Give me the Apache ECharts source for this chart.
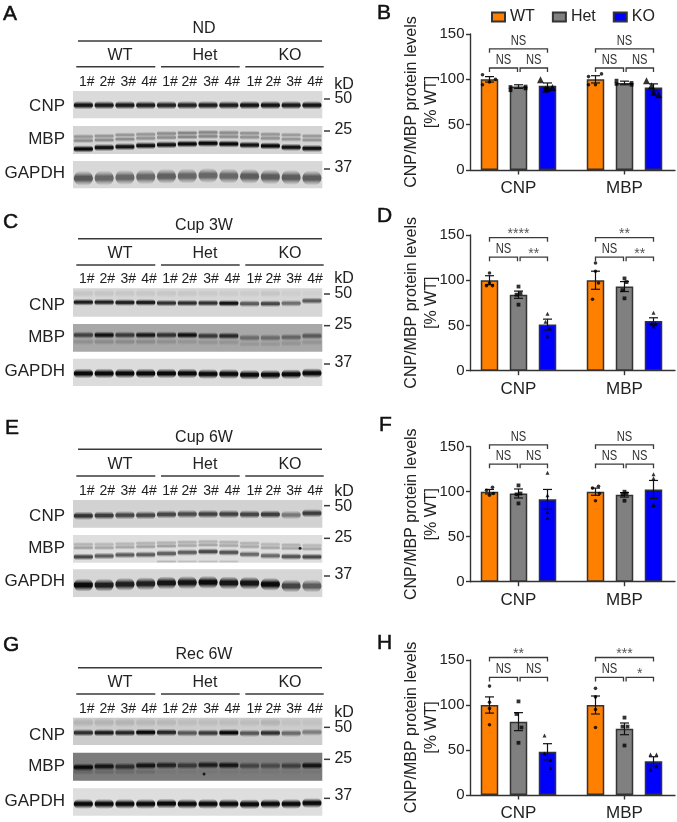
<!DOCTYPE html>
<html><head><meta charset="utf-8">
<style>html,body{margin:0;padding:0;background:#fff}#c{width:677px;height:822px}</style>
<script src="https://cdn.jsdelivr.net/npm/echarts@6/dist/echarts.min.js"></script>
</head><body><div id="c"></div>
<script>
// ---------- categories / labels ----------
const groups = ['CNP', 'MBP'];
const genotypes = ['WT', 'Het', 'KO'];
const genotypeColors = ['#FF7F00', '#808080', '#0000FF'];
const yTicks = [0, 50, 100, 150];
const laneNames = ['1#', '2#', '3#', '4#'];
const lanes = ['1','2','3','4','5','6','7','8','9','10','11','12'];
const panelTitles = ['ND', 'Cup 3W', 'Cup 6W', 'Rec 6W'];

// ---------- bars: mean per group [CNP, MBP] ----------
const B_WT = [100, 100], B_Het = [92, 96], B_KO = [93, 91];
const D_WT = [100, 100], D_Het = [84, 93], D_KO = [51, 55];
const F_WT = [100, 100], F_Het = [98, 96.5], F_KO = [91.5, 102.5];
const H_WT = [100, 100], H_Het = [81.5, 73.5], H_KO = [48, 37.5];
// ---------- SEM ----------
const B_WT_sem = [3, 4], B_Het_sem = [2, 2], B_KO_sem = [3, 4];
const D_WT_sem = [5, 10], D_Het_sem = [4, 5.5], D_KO_sem = [6, 3.5];
const F_WT_sem = [2.5, 4], F_Het_sem = [5, 2.5], F_KO_sem = [11, 10];
const H_WT_sem = [9, 10], H_Het_sem = [10, 6.5], H_KO_sem = [9, 5];
// ---------- animals ----------
const B_WT_pts = [[105, 100, 94, 97], [103, 106, 94, 94]];
const B_Het_pts = [[88, 92, 91.5, 90], [98.5, 96, 95, 94]];
const B_KO_pts = [[99.6, 89, 91, 90], [98.5, 93, 83, 85.6]];
const D_WT_pts = [[108, 94, 94, 97], [119, 79, 97, 110]];
const D_Het_pts = [[93, 73, 85.6, 84], [102, 80, 98, 89]];
const D_KO_pts = [[63, 38, 54, 47], [64, 49, 52, 52]];
const F_WT_pts = [[105, 101.5, 96, 98], [106, 104, 90, 98]];
const F_Het_pts = [[107, 87, 98, 97], [100, 90, 98, 97]];
const F_KO_pts = [[121, 71, 96, 77.5], [119.5, 115, 85, 85.6]];
const H_WT_pts = [[121, 78, 103, 96], [118.5, 75, 95, 109]];
const H_Het_pts = [[104, 58, 90, 75], [86, 55, 76, 76]];
const H_KO_pts = [[66, 30, 46, 39], [45, 45, 28, 32]];
// scatter of the animals around each bar, one list per chart
const B_spread = [[-7, 6, -7, 0], [-8, 7, -8, 7], [-7, -2, 5, 0]];
const D_spread = [[0, -3, 3, 0], [0, 0, 2, -2], [0, 0, -2, 2]];
const F_spread = [[3, -3, 0, 4], [0, 0, 2, -2], [0, 0, 0, 0]];
const H_spread = [[0, 0, 0, 0], [0, 0, -2, 3], [-3, 3, -3, 3]];
// ---------- significance: [CNP, MBP] ----------
const B_sigTop = ['NS', 'NS'], B_sigLeft = ['NS', 'NS'], B_sigRight = ['NS', 'NS'];
const D_sigTop = ['****', '**'], D_sigLeft = ['NS', 'NS'], D_sigRight = ['**', '**'];
const F_sigTop = ['NS', 'NS'], F_sigLeft = ['NS', 'NS'], F_sigRight = ['NS', 'NS'];
const H_sigTop = ['**', '***'], H_sigLeft = ['NS', 'NS'], H_sigRight = ['NS', '*'];
const B_brackets = [133.6, 112.5], D_brackets = [147, 125.5], F_brackets = [152, 130.6], H_brackets = [152.8, 130.6];

// ---------- blots: band migration (% of membrane height) and density per lane ----------
const A_CNP_rf = [52,52,52,52,52,52,52,52,52,52,52,52], A_CNP_d = [.95,.92,.92,.9,.88,.88,.9,.9,.95,.95,.92,.95];
const A_MBP1_rf = [38,36,32,30,27,25,23,24,26,30,32,36], A_MBP1_d = [.3,.3,.3,.3,.35,.38,.38,.35,.32,.3,.28,.28];
const A_MBP2_rf = [52,50,47,44,41,39,37,38,40,44,47,50], A_MBP2_d = [.35,.35,.35,.32,.35,.38,.38,.35,.32,.32,.3,.3];
const A_MBP3_rf = [82,77,74,70,67,64,62,64,68,71,76,80], A_MBP3_d = [1,.95,.95,.95,.95,1,1,1,.95,1,.95,.95];
const A_GAP_rf = [63,62,60,58,56,55,53,55,56,58,60,62], A_GAP_d = [.62,.55,.55,.55,.58,.55,.55,.55,.6,.6,.6,.6];

const C_CNP0_rf = [18,18,18,18,18,18,18,18,18,18,18,18], C_CNP0_d = [.08,.08,.07,.07,.07,.07,.06,.05,.05,.08,.04,.03];
const C_CNP_rf = [49,49,50,50,52,52,52,53,54,54,53,44], C_CNP_d = [.9,.88,.9,.92,.8,.82,.8,.95,.6,.7,.5,.6];
const C_MBP_rf = [40,40,40,40,40,40,43,43,50,50,48,43], C_MBP_d = [.65,.95,.7,.9,.75,.95,.7,.8,.38,.38,.42,.5];
const C_MBP2_rf = [64,64,64,64,64,64,66,66,72,72,70,66], C_MBP2_d = [.15,.18,.18,.18,.15,.12,.12,.12,.1,.1,.12,.12];
const C_GAP_rf = [54,54,54,54,54,54,56,56,59,59,57,53], C_GAP_d = [1,1,1,1,1,1,1,1,1,1,1,1];

const E_CNP_rf = [57,56,55,55,52,51,51,51,52,52,54,48], E_CNP_d = [.8,.75,.7,.7,.7,.68,.72,.72,.7,.75,.45,.75];
const E_MBP1_rf = [34,34,32,30,28,26,24,26,30,34,36,38], E_MBP1_d = [.2,.18,.18,.2,.2,.2,.2,.2,.2,.18,.2,.18];
const E_MBP2_rf = [46,46,44,42,40,38,36,38,42,46,48,50], E_MBP2_d = [.28,.25,.25,.28,.28,.25,.25,.25,.25,.25,.25,.25];
const E_MBP3_rf = [79,76,72,71,67,63,60,63,70,75,78,79], E_MBP3_d = [.7,.6,.6,.6,.6,.6,.7,.65,.55,.55,.65,.7];
const E_MBP4_rf = [96,96,96,96,96,96,96,96,96,96,96,96], E_MBP4_d = [0,0,0,0,.18,.14,.14,.14,0,0,0,0];
const E_GAP_rf = [57,57,54,52,49,48,47,49,50,54,60,60], E_GAP_d = [1,.9,.9,.9,.95,.95,1,.95,.95,1,.72,.6];

const G_CNP0_rf = [18,18,18,18,18,18,18,18,18,18,18,18], G_CNP0_d = [.12,.12,.12,.1,.1,.08,.08,.08,.08,.12,.05,.05];
const G_CNP_rf = [55,55,55,54,54,56,56,55,57,56,57,53], G_CNP_d = [.8,.9,.85,1,.85,.6,.75,1,.6,.8,.5,.4];
const G_MBP_rf = [52,49,50,46,45,46,44,45,47,47,47,46], G_MBP_d = [1,.9,.7,.9,.8,.6,.85,.9,.5,.45,.55,.9];
const G_MBP2_rf = [68,68,68,68,68,68,68,68,68,68,68,68], G_MBP2_d = [.18,.16,.14,.14,.05,.05,.05,.05,.05,.05,.05,.05];
const G_GAP_rf = [57,57,57,57,56,57,57,57,58,57,57,54], G_GAP_d = [1,1,1,1,1,1,1,1,1,1,1,1];

// ---------- layout (styles and pixel positions only) ----------
const TXT = '#222', LN = '#3a3a3a';
const SANS = '"Liberation Sans", Arial, sans-serif';
const panelLayouts = [
  {o: 0,   letter: 'A', lx: 3, ly: 14, title: 87, tl: 123, grp: 168, gl: 200, lane: 247, kd: 253,
   names: [318, 418, 520], kda: [[297, 297], [390, 393], [503, 507]], blots: [[273, 82], [378, 84], [483, 82]]},
  {o: 205, letter: 'C', lx: 3, ly: 17, title: 62, tl: 101, grp: 145, gl: 180, lane: 222, kd: 222,
   names: [302, 397, 500], kda: [[267, 267], [360, 362], [473, 477]], blots: [[250, 85], [357, 83], [461, 82]]},
  {o: 415, letter: 'E', lx: 5, ly: 13, title: 68, tl: 103, grp: 148, gl: 183, lane: 227, kd: 230,
   names: [303, 400, 500], kda: [[275, 272], [367, 370], [480, 483]], blots: [[255, 83], [360, 83], [463, 83]]},
  {o: 630, letter: 'G', lx: 3, ly: 15, title: 75, tl: 113, grp: 158, gl: 192, lane: 237, kd: 247,
   names: [315, 410, 513], kda: [[292, 292], [385, 388], [497, 505]], blots: [[263, 82], [368, 84], [475, 82]]}
];
const blotNames = ['CNP', 'MBP', 'GAPDH'];
const blotBg = [['#dadada', '#d4d4d4', '#d8d8d8'], ['#d6d6d6', '#a8a8a8', '#dcdcdc'],
                ['#d2d2d2', '#dedede', '#d6d6d6'], ['#cccccc', '#7c7c7c', '#dedede']];
// rows: [rf, density, band height px]
const blotRows = [
  [[[A_CNP_rf, A_CNP_d, 8.5]],
   [[A_MBP1_rf, A_MBP1_d, 5.5], [A_MBP2_rf, A_MBP2_d, 5.5], [A_MBP3_rf, A_MBP3_d, 7.5]],
   [[A_GAP_rf, A_GAP_d, 15]]],
  [[[C_CNP0_rf, C_CNP0_d, 9], [C_CNP_rf, C_CNP_d, 7]],
   [[C_MBP_rf, C_MBP_d, 7.5], [C_MBP2_rf, C_MBP2_d, 7]],
   [[C_GAP_rf, C_GAP_d, 10]]],
  [[[E_CNP_rf, E_CNP_d, 8.5]],
   [[E_MBP1_rf, E_MBP1_d, 5], [E_MBP2_rf, E_MBP2_d, 5], [E_MBP3_rf, E_MBP3_d, 7], [E_MBP4_rf, E_MBP4_d, 3.5]],
   [[E_GAP_rf, E_GAP_d, 13]]],
  [[[G_CNP0_rf, G_CNP0_d, 10], [G_CNP_rf, G_CNP_d, 7.5]],
   [[G_MBP_rf, G_MBP_d, 8], [G_MBP2_rf, G_MBP2_d, 7]],
   [[G_GAP_rf, G_GAP_d, 10]]]
];
// dust specks on membranes: [panel, blot, lane, rf, px offset]
const specks = [[3, 1, 6, 76, -4], [2, 1, 10, 48, 9]];

const barPanels = [
  {letter: 'B', top: 34, h: 136, lx: 377, ly: 13, m: [B_WT, B_Het, B_KO], s: [B_WT_sem, B_Het_sem, B_KO_sem],
   p: [B_WT_pts, B_Het_pts, B_KO_pts], sp: B_spread, t: B_sigTop, l: B_sigLeft, r: B_sigRight, br: B_brackets, tri: 7},
  {letter: 'D', top: 235, h: 135.7, lx: 377, ly: 216, m: [D_WT, D_Het, D_KO], s: [D_WT_sem, D_Het_sem, D_KO_sem],
   p: [D_WT_pts, D_Het_pts, D_KO_pts], sp: D_spread, t: D_sigTop, l: D_sigLeft, r: D_sigRight, br: D_brackets, tri: 4},
  {letter: 'F', top: 446.7, h: 135, lx: 379, ly: 425, m: [F_WT, F_Het, F_KO], s: [F_WT_sem, F_Het_sem, F_KO_sem],
   p: [F_WT_pts, F_Het_pts, F_KO_pts], sp: F_spread, t: F_sigTop, l: F_sigLeft, r: F_sigRight, br: F_brackets, tri: 4},
  {letter: 'H', top: 660, h: 135.3, lx: 377, ly: 643, m: [H_WT, H_Het, H_KO], s: [H_WT_sem, H_Het_sem, H_KO_sem],
   p: [H_WT_pts, H_Het_pts, H_KO_pts], sp: H_spread, t: H_sigTop, l: H_sigLeft, r: H_sigRight, br: H_brackets, tri: 4}
];

// ---------- option ----------
const grids = [], xAxes = [], yAxes = [], series = [], graphics = [];
const txt = (text, x, y, size, align, color, extra, el) => Object.assign({
  type: 'text', x, y, silent: true,
  style: Object.assign({text, fill: color || TXT, font: size + 'px ' + SANS,
    align: align || 'center', verticalAlign: 'middle', textAlign: align || 'center', textVerticalAlign: 'middle'}, extra || {})
}, el || {});
const line = (x1, y1, x2, y2, w, c) => ({type: 'line', silent: true, shape: {x1, y1, x2, y2},
  style: {stroke: c || LN, lineWidth: w || 1.5}});
const letterStyle = {stroke: '#111', lineWidth: 0.5};
const shade = (d, a) => 'rgba(10,10,10,' + d * a + ')';

// western blots
const BLOT_L = 73, BLOT_W = 249.3;
panelLayouts.forEach((P, pi) => {
  const Y = v => P.o + v / 3;
  graphics.push(txt(P.letter, P.lx, P.o + P.ly, 21, 'left', '#111', letterStyle));
  graphics.push(txt(panelTitles[pi], 204, Y(P.title), 16));
  graphics.push(line(78, Y(P.tl), 322, Y(P.tl)));
  const gc = [120, 205, 290], gx = [[76.3, 155.3], [161, 239.7], [245.3, 323.7]];
  genotypes.forEach((g, i) => {
    graphics.push(txt(g, gc[i], Y(P.grp), 16));
    graphics.push(line(gx[i][0], Y(P.gl), gx[i][1], Y(P.gl)));
  });
  const lx = [260, 322, 385, 447, 510, 568, 633, 697, 763, 820, 882, 945];
  lx.forEach((x, i) => graphics.push(txt(laneNames[i % 4], x / 3, Y(P.lane), 14)));
  graphics.push(txt('kD', 344, Y(P.kd), 16));
  ['50', '25', '37'].forEach((k, i) => {
    graphics.push(txt(k, 343.3, Y(P.kda[i][0]), 16));
    graphics.push(line(324, Y(P.kda[i][1]), 330, Y(P.kda[i][1])));
    graphics.push(txt(blotNames[i], 65, Y(P.names[i]), 17, 'right'));
  });
  P.blots.forEach((b, bi) => {
    const g = grids.length;
    grids.push({left: BLOT_L, width: BLOT_W, top: Y(b[0]), height: b[1] / 3, show: true,
      borderWidth: 0, backgroundColor: blotBg[pi][bi]});
    xAxes.push({gridIndex: g, type: 'category', data: lanes, show: false});
    yAxes.push({gridIndex: g, type: 'value', min: 0, max: 100, inverse: true, show: false});
    blotRows[pi][bi].forEach(row => {
      const H = row[2];
      series.push({type: 'custom', xAxisIndex: g, yAxisIndex: g, silent: true, clip: true,
        encode: {x: 0, y: 1}, data: row[0].map((rf, l) => [l, rf, row[1][l]]),
        renderItem(params, api) {
          const c = api.coord([api.value(0), api.value(1)]);
          const lw = api.size([1, 0])[0], d = api.value(2), w = lw * 0.92;
          return {type: 'rect', silent: true,
            shape: {x: c[0] - w / 2, y: c[1] - H / 2, width: w, height: H, r: H / 2},
            style: {fill: new echarts.graphic.LinearGradient(0, 0, 0, 1, [
              {offset: 0, color: shade(d, 0)}, {offset: 0.2, color: shade(d, 0.45)},
              {offset: 0.38, color: shade(d, 1)}, {offset: 0.62, color: shade(d, 1)},
              {offset: 0.8, color: shade(d, 0.45)}, {offset: 1, color: shade(d, 0)}])}};
        }});
    });
    specks.filter(s => s[0] === pi && s[1] === bi).forEach(s => {
      series.push({type: 'scatter', xAxisIndex: g, yAxisIndex: g, silent: true, symbolSize: 3,
        symbolOffset: [s[4], 0], itemStyle: {color: '#000'}, data: [[s[2], s[3]]]});
    });
  });
});

// bar charts
const CHART_L = 470.5, CHART_W = 204.5, UNIT = 106;
const minX = 1 - (518.5 - CHART_L) / UNIT, maxX = minX + CHART_W / UNIT;
const slot = i => (i - 1) * 29 / UNIT;
const small = 1 / UNIT;
barPanels.forEach(P => {
  const g = grids.length;
  graphics.push(txt(P.letter, P.lx, P.ly, 21, 'left', '#111', letterStyle));
  grids.push({left: CHART_L, width: CHART_W, top: P.top, height: P.h});
  xAxes.push({gridIndex: g, type: 'value', min: minX, max: maxX, splitLine: {show: false},
    axisLine: {lineStyle: {color: '#333', width: 1.4}},
    axisTick: {customValues: [1, 2], length: 4.5, lineStyle: {color: '#333', width: 1.4}},
    axisLabel: {customValues: [1, 2], formatter: v => groups[v - 1], fontSize: 17, color: TXT, margin: 10, fontFamily: SANS}});
  yAxes.push({gridIndex: g, type: 'value', min: 0, max: 150, interval: 50, splitLine: {show: false},
    name: 'CNP/MBP protein levels\n[% WT]', nameLocation: 'middle', nameGap: 29, nameRotate: 90, nameMoveOverlap: false,
    nameTextStyle: {fontSize: 16, color: TXT, lineHeight: 20, fontFamily: SANS},
    axisLine: {show: true, lineStyle: {color: '#333', width: 1.4}},
    axisTick: {show: true, length: 4.5, lineStyle: {color: '#333', width: 1.4}},
    axisLabel: {fontSize: 15, color: TXT, margin: 6, fontFamily: SANS}});
  genotypes.forEach((name, i) => {
    series.push({type: 'bar', name, xAxisIndex: g, yAxisIndex: g, barWidth: 17.5, barGap: '65.7%',
      itemStyle: {color: genotypeColors[i], borderColor: '#333', borderWidth: 1.5},
      data: P.m[i].map((v, k) => [k + 1, v])});
  });
  genotypes.forEach((name, i) => {
    series.push({type: 'custom', xAxisIndex: g, yAxisIndex: g, silent: true, z: 3, clip: false,
      encode: {x: 0, y: 1}, data: P.m[i].map((v, k) => [k + 1 + slot(i), v, P.s[i][k]]),
      renderItem(params, api) {
        const x = api.value(0), m = api.value(1), e = api.value(2);
        const a = api.coord([x, m + e]), b = api.coord([x, m - e]);
        const st = {stroke: '#111', lineWidth: 1.2, fill: null};
        return {type: 'group', children: [
          {type: 'line', shape: {x1: a[0], y1: a[1], x2: b[0], y2: b[1]}, style: st},
          {type: 'line', shape: {x1: a[0] - 4.5, y1: a[1], x2: a[0] + 4.5, y2: a[1]}, style: st},
          {type: 'line', shape: {x1: b[0] - 4.5, y1: b[1], x2: b[0] + 4.5, y2: b[1]}, style: st}]};
      }});
    const sym = ['circle', 'rect', 'triangle'][i];
    const pts = [];
    P.p[i].forEach((list, k) => list.forEach((v, j) => pts.push([k + 1 + slot(i) + P.sp[i][j] * small, v])));
    series.push({type: 'scatter', xAxisIndex: g, yAxisIndex: g, silent: true, z: 4, clip: false,
      symbol: sym, symbolSize: i === 2 ? P.tri : (i === 1 ? 3.8 : 3.6), itemStyle: {color: '#000'}, data: pts});
  });
  // significance brackets: [x1, x2, y, label]
  const rows = [];
  groups.forEach((name, k) => {
    const c = k + 1;
    rows.push([c + slot(0), c + slot(2), P.br[0], P.t[k]]);
    rows.push([c + slot(0), c - small, P.br[1], P.l[k]]);
    rows.push([c + small * 1.6, c + slot(2), P.br[1], P.r[k]]);
  });
  series.push({type: 'custom', xAxisIndex: g, yAxisIndex: g, silent: true, z: 5, clip: false,
    encode: {x: [0, 1], y: 2}, data: rows,
    renderItem(params, api) {
      const a = api.coord([api.value(0), api.value(2)]), b = api.coord([api.value(1), api.value(2)]);
      const label = rows[params.dataIndex][3], isNS = label === 'NS';
      return {type: 'group', children: [
        {type: 'polyline', shape: {points: [[a[0], a[1] + 4], [a[0], a[1]], [b[0], a[1]], [b[0], a[1] + 4]]},
         style: {stroke: LN, lineWidth: 1.3, fill: null}},
        txt(label, (a[0] + b[0]) / 2, a[1] + (isNS ? -8.5 : -3.5), isNS ? 15.5 : 14, 'center', isNS ? '#333' : '#555', null,
            isNS ? {scaleX: 0.72} : null)]};
    }});
});

const chart = echarts.init(document.getElementById('c'), null, {renderer: 'canvas'});
chart.setOption({
  animation: false, backgroundColor: '#fff',
  textStyle: {fontFamily: SANS},
  legend: {data: genotypes, left: 491, top: 9, itemWidth: 13, itemHeight: 9, itemGap: 17, selectedMode: false,
    textStyle: {fontSize: 16, color: TXT, fontFamily: SANS}, icon: 'rect', padding: 0},
  grid: grids, xAxis: xAxes, yAxis: yAxes, series,
  graphic: {elements: graphics}
});
</script></body></html>
